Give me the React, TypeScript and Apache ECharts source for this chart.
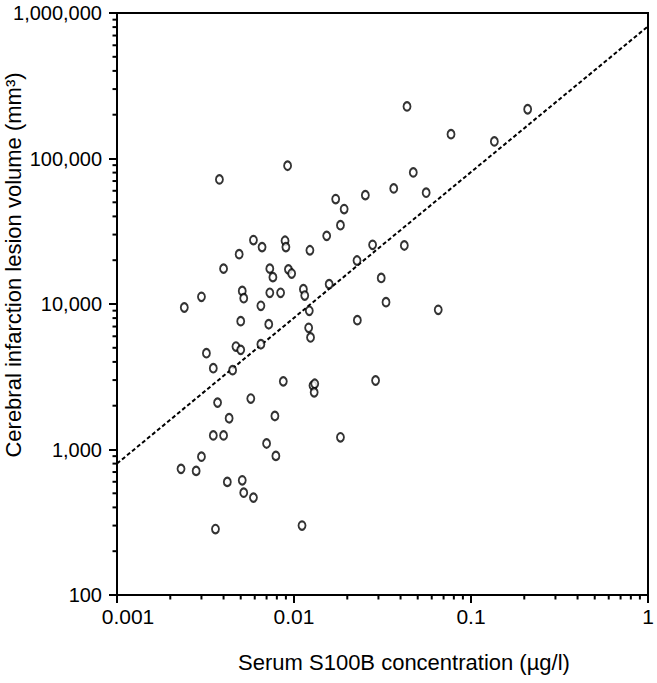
import React, { useEffect, useRef } from "react";
import * as echarts from "echarts";

// Serum S100B concentration (µg/l)
const s100b: number[] = [
  0.00379, 0.0092, 0.0172, 0.0192, 0.0253, 0.0183, 0.0153, 0.0059, 0.0066, 0.0089,
  0.009, 0.0123, 0.0049, 0.0278, 0.004, 0.0073, 0.0076, 0.0093, 0.0097, 0.0227,
  0.0158, 0.0311, 0.003, 0.0051, 0.0052, 0.0073, 0.0084, 0.0113, 0.0115, 0.0435,
  0.209, 0.0771, 0.1355, 0.0472, 0.0366, 0.0558, 0.042, 0.0331, 0.0653, 0.0289,
  0.0024, 0.0065, 0.0122, 0.005, 0.0072, 0.0228, 0.0121, 0.0124, 0.0047, 0.005,
  0.0065, 0.0032, 0.0035, 0.0045, 0.0087, 0.0128, 0.0131, 0.013, 0.0037, 0.0057,
  0.0043, 0.0078, 0.0035, 0.004, 0.0183, 0.007, 0.003, 0.0079, 0.0023, 0.0028,
  0.0042, 0.0051, 0.0052, 0.0059, 0.0036, 0.0111,
];

// Cerebral infarction lesion volume (mm³)
const lesionVolume: number[] = [
  71800, 89200, 52600, 44900, 56000, 34800, 29400, 27500, 24600, 27200,
  24600, 23400, 22000, 25500, 17500, 17500, 15300, 17300, 16200, 19900,
  13700, 15100, 11200, 12300, 10960, 11940, 11940, 12640, 11430, 228000,
  218000, 147000, 131000, 80200, 62300, 58200, 25250, 10290, 9120, 2980,
  9460, 9720, 8980, 7620, 7260, 7740, 6860, 5890, 5100, 4840,
  5290, 4590, 3620, 3510, 2940, 2750, 2830, 2470, 2100, 2240,
  1640, 1700, 1250, 1250, 1213, 1100, 893, 904, 736, 713,
  599, 614, 505, 467, 284, 300,
];

// Regression line end points
const trendX: number[] = [0.001, 1];
const trendY: number[] = [800, 810000];

// Axis ranges and tick labels
const xTickLabels: string[] = ["0.001", "0.01", "0.1", "1"];
const yTickLabels: string[] = ["100", "1,000", "10,000", "100,000", "1,000,000"];
const xMinorTicks: number[] = [
  0.002, 0.003, 0.004, 0.005, 0.006, 0.007, 0.008, 0.009,
  0.02, 0.03, 0.04, 0.05, 0.06, 0.07, 0.08, 0.09,
  0.2, 0.3, 0.4, 0.5, 0.6, 0.7, 0.8, 0.9,
];
const yMinorTicks: number[] = [
  200, 300, 400, 500, 600, 700, 800, 900,
  2000, 3000, 4000, 5000, 6000, 7000, 8000, 9000,
  20000, 30000, 40000, 50000, 60000, 70000, 80000, 90000,
  200000, 300000, 400000, 500000, 600000, 700000, 800000, 900000,
];

const X_MIN = 0.001;
const X_MAX = 1;
const Y_MIN = 100;
const Y_MAX = 1000000;

const FONT = "'Liberation Sans', Arial, Helvetica, sans-serif";

export default function App() {
  const ref = useRef<HTMLDivElement>(null);

  useEffect(() => {
    if (!ref.current) return;
    const chart = echarts.init(ref.current, null, { renderer: "svg" });

    const points = s100b.map((x, i) => [x, lesionVolume[i]]);
    const trend = trendX.map((x, i) => [x, trendY[i]]);

    const xLabelFor = (v: number) => {
      const e = Math.round(Math.log10(v)) + 3;
      return xTickLabels[e] ?? String(v);
    };
    const yLabelFor = (v: number) => {
      const e = Math.round(Math.log10(v)) - 2;
      return yTickLabels[e] ?? String(v);
    };

    chart.setOption({
      animation: false,
      backgroundColor: "#ffffff",
      grid: {
        left: 117,
        right: 9,
        top: 13,
        bottom: 88,
        show: true,
        borderColor: "#000",
        borderWidth: 2,
        backgroundColor: "transparent",
      },
      xAxis: {
        type: "log",
        logBase: 10,
        min: X_MIN,
        max: X_MAX,
        splitLine: { show: false },
        axisLine: { show: true, lineStyle: { color: "#000", width: 2 } },
        axisTick: { show: true, length: 8, lineStyle: { color: "#000", width: 2 } },
        axisLabel: {
          show: true,
          color: "#000",
          fontFamily: FONT,
          fontSize: 21,
          margin: 11,
          showMinLabel: true,
          showMaxLabel: true,
          formatter: (v: number) => {
            const s = xLabelFor(v);
            return s === "0.001" ? "{first|" + s + "}" : s;
          },
          rich: {
            first: {
              fontFamily: FONT,
              fontSize: 21,
              color: "#000",
              padding: [0, 0, 0, 22],
            },
          },
        },
      },
      yAxis: {
        type: "log",
        logBase: 10,
        min: Y_MIN,
        max: Y_MAX,
        splitLine: { show: false },
        axisLine: { show: true, lineStyle: { color: "#000", width: 2 } },
        axisTick: { show: true, length: 8, lineStyle: { color: "#000", width: 2 } },
        axisLabel: {
          show: true,
          color: "#000",
          fontFamily: FONT,
          fontSize: 20,
          margin: 15,
          showMinLabel: true,
          showMaxLabel: true,
          formatter: (v: number) => yLabelFor(v),
        },
      },
      graphic: [
        {
          type: "text",
          x: 404,
          y: 662,
          style: {
            text: "Serum S100B concentration (µg/l)",
            font: "22px " + FONT,
            fill: "#000",
            textAlign: "center",
            textVerticalAlign: "middle",
          },
        },
        {
          type: "text",
          x: 13,
          y: 265,
          rotation: Math.PI / 2,
          style: {
            text: "Cerebral infarction lesion volume (mm³)",
            font: "22px " + FONT,
            fill: "#000",
            textAlign: "center",
            textVerticalAlign: "middle",
          },
        },
      ],
      series: [
        {
          type: "line",
          data: trend,
          symbol: "none",
          silent: true,
          lineStyle: { color: "#000", width: 2, type: [4, 2.5] },
          z: 2,
        },
        {
          type: "scatter",
          data: points,
          symbol: "emptyCircle",
          symbolSize: [7, 8.5],
          itemStyle: { color: "#000", borderColor: "#000", borderWidth: 2.3 },
          z: 3,
        },
        {
          type: "custom",
          silent: true,
          clip: false,
          data: xMinorTicks.map((v) => [v, Y_MIN]),
          renderItem: (_p: any, api: any) => {
            const pt = api.coord([api.value(0), api.value(1)]);
            return {
              type: "line",
              shape: { x1: pt[0], y1: pt[1], x2: pt[0], y2: pt[1] + 4.5 },
              style: { stroke: "#000", lineWidth: 2 },
            };
          },
          z: 4,
        },
        {
          type: "custom",
          silent: true,
          clip: false,
          data: yMinorTicks.map((v) => [X_MIN, v]),
          renderItem: (_p: any, api: any) => {
            const pt = api.coord([api.value(0), api.value(1)]);
            return {
              type: "line",
              shape: { x1: pt[0], y1: pt[1], x2: pt[0] - 4.5, y2: pt[1] },
              style: { stroke: "#000", lineWidth: 2 },
            };
          },
          z: 4,
        },
      ],
    });

    return () => chart.dispose();
  }, []);

  return (
    <div
      ref={ref}
      style={{ position: "absolute", left: 0, top: 0, width: 657, height: 683 }}
    />
  );
}
